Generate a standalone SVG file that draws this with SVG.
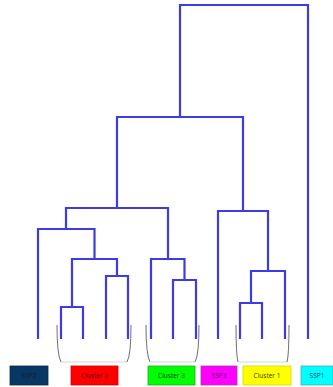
<svg xmlns="http://www.w3.org/2000/svg" width="333" height="387" viewBox="0 0 333 387">
<style>
.tree{fill:none;stroke:#3c3ce6;stroke-width:2.2;stroke-linejoin:miter;stroke-linecap:butt}
.br{fill:none;stroke:#6e6e6e;stroke-width:1}
.brb{fill:none;stroke:#d6d6d6;stroke-width:1}
.lbl{stroke-width:0.8}
text{font-family:"Open Sans","Liberation Sans",sans-serif;font-size:6.5px;text-anchor:middle;dominant-baseline:central}
</style>
<rect width="333" height="387" fill="#ffffff"/>
<g id="connectors">
  <path class="tree" d="M180,117 V5 H308 V339"/>
  <path class="tree" d="M117,208 V117 H243 V211"/>
  <path class="tree" d="M66,229 V208 H168 V259"/>
  <path class="tree" d="M38,339 V229 H94.5 V259"/>
  <path class="tree" d="M72,307 V259 H117 V276"/>
  <path class="tree" d="M61,339 V307 H83 V339"/>
  <path class="tree" d="M106,339 V276 H128 V339"/>
  <path class="tree" d="M151,339 V259 H184.5 V280"/>
  <path class="tree" d="M173,339 V280 H196 V339"/>
  <path class="tree" d="M218,339 V211 H268 V271"/>
  <path class="tree" d="M251,303 V271 H285 V339"/>
  <path class="tree" d="M240,339 V303 H262 V339"/>
</g>
<g id="brackets">
  <path class="br" d="M57,325 Q57,355 61,362"/>
  <path class="brb" d="M61,362 H127"/>
  <path class="br" d="M131,325 Q131,355 127,362"/>
  <path class="br" d="M146,325 Q146,355 150,362"/>
  <path class="brb" d="M150,362 H195"/>
  <path class="br" d="M199,325 Q199,355 195,362"/>
  <path class="br" d="M236,325 Q236,355 238,362"/>
  <path class="brb" d="M238,362 H287"/>
  <path class="br" d="M289,325 Q289,355 287,362"/>
</g>
<g id="SSP2">
  <rect class="lbl" x="10" y="366" width="38" height="19" fill="#073763" stroke="#0b2a4a"/>
  <text x="29" y="375.5" fill="#1a1a2a">SSP2</text>
</g>
<g id="Cluster2">
  <rect class="lbl" x="71" y="366" width="47" height="19" fill="#ff0000" stroke="#d00000"/>
  <text x="94.5" y="375.5" fill="#5a0000">Cluster 2</text>
</g>
<g id="Cluster3">
  <rect class="lbl" x="148" y="366" width="47" height="19" fill="#00ff00" stroke="#22aa22"/>
  <text x="171.5" y="375.5" fill="#0a3a0a">Cluster 3</text>
</g>
<g id="SSP3">
  <rect class="lbl" x="201" y="366" width="36" height="19" fill="#ff00ff" stroke="#a040a0"/>
  <text x="219" y="375.5" fill="#5a0a5a">SSP3</text>
</g>
<g id="Cluster1">
  <rect class="lbl" x="243" y="366" width="48" height="19" fill="#ffff00" stroke="#d8d800"/>
  <text x="267" y="375.5" fill="#3a3a00">Cluster 1</text>
</g>
<g id="SSP1">
  <rect class="lbl" x="301" y="366" width="32" height="19" fill="#00ffff" stroke="#40b0b0"/>
  <text x="317" y="375.5" fill="#0a3a5a">SSP1</text>
</g>
</svg>
